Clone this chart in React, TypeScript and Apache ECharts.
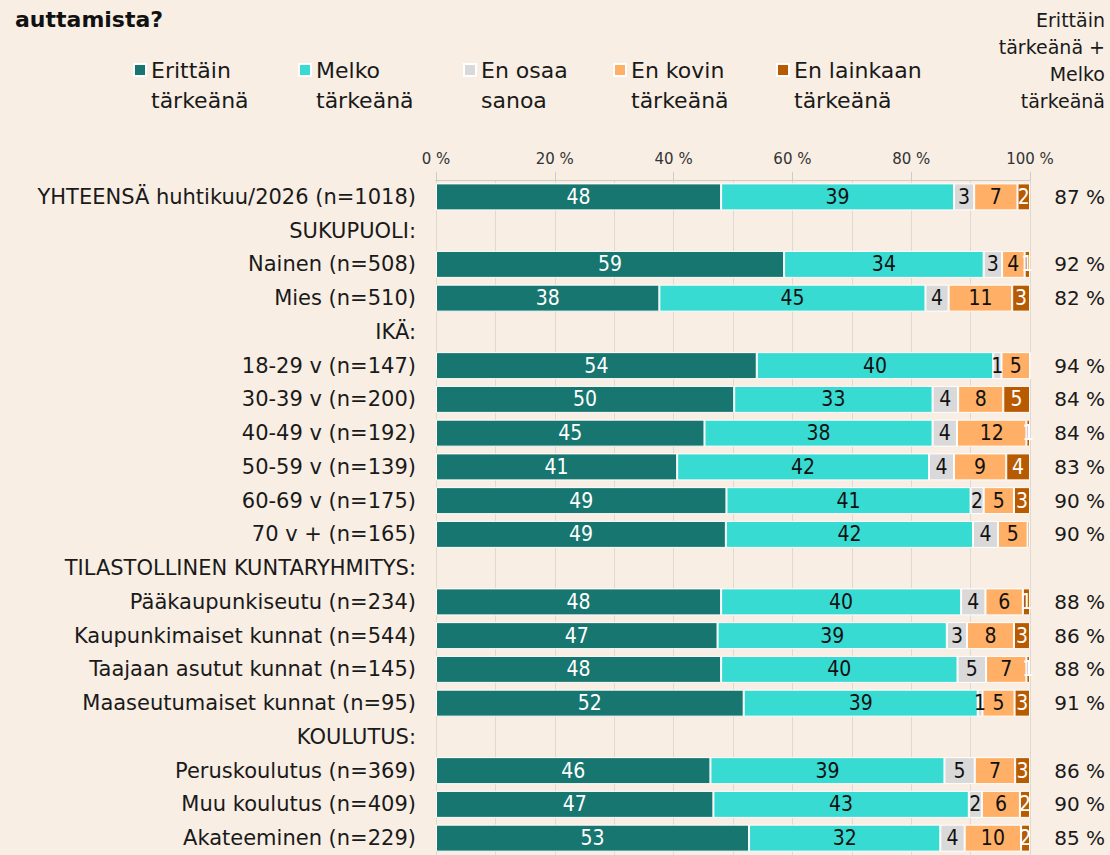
import React, { useEffect, useRef } from "react";
import * as echarts from "echarts";

const categories = [
  "YHTEENSÄ huhtikuu/2026 (n=1018)",
  "SUKUPUOLI:",
  "Nainen (n=508)",
  "Mies (n=510)",
  "IKÄ:",
  "18-29 v (n=147)",
  "30-39 v (n=200)",
  "40-49 v (n=192)",
  "50-59 v (n=139)",
  "60-69 v (n=175)",
  "70 v + (n=165)",
  "TILASTOLLINEN KUNTARYHMITYS:",
  "Pääkaupunkiseutu (n=234)",
  "Kaupunkimaiset kunnat (n=544)",
  "Taajaan asutut kunnat (n=145)",
  "Maaseutumaiset kunnat (n=95)",
  "KOULUTUS:",
  "Peruskoulutus (n=369)",
  "Muu koulutus (n=409)",
  "Akateeminen (n=229)",
];

const erittain = [48.0, null, 58.6, 37.6, null, 54.0, 50.2, 45.2, 40.6, 48.9, 48.8, null, 48.0, 47.4, 48.0, 51.8, null, 46.2, 46.7, 52.7];
const melko = [39.2, null, 33.6, 44.8, null, 39.8, 33.4, 38.4, 42.4, 41.1, 41.6, null, 40.4, 38.6, 39.8, 39.4, null, 39.4, 43.0, 32.2];
const enOsaa = [3.4, null, 3.1, 3.9, null, 1.4, 4.3, 4.1, 4.2, 2.2, 4.2, null, 4.1, 3.4, 4.8, 0.8, null, 5.1, 2.2, 4.1];
const enKovin = [7.3, null, 3.8, 10.7, null, 4.8, 7.6, 11.7, 8.8, 5.1, 5.0, null, 6.3, 7.9, 6.8, 5.4, null, 6.8, 6.4, 9.5];
const enLainkaan = [2.1, null, 0.9, 3.0, null, 0, 4.5, 0.6, 4.0, 2.7, 0.4, null, 1.2, 2.7, 0.6, 2.6, null, 2.5, 1.7, 1.5];

const seriesNames = [
  "Erittäin tärkeänä",
  "Melko tärkeänä",
  "En osaa sanoa",
  "En kovin tärkeänä",
  "En lainkaan tärkeänä",
];
const seriesColors = ["#17766F", "#38DBD1", "#D9D9D9", "#FFB066", "#B85A00"];
const labelColors = ["#FFFFFF", "#111111", "#111111", "#111111", "#FFFFFF"];
const legendLefts = [133, 298, 463, 613, 776];

const totals = erittain.map((v, i) =>
  v === null ? "" : `${Math.round((v as number) + (melko[i] as number))} %`
);

const FONT = "'DejaVu Sans', sans-serif";
const NUMFONT = "'Liberation Sans Narrow', 'DejaVu Sans Condensed', sans-serif";
const BG = "#F8EEE4";

export default function App() {
  const ref = useRef<HTMLDivElement>(null);
  useEffect(() => {
    if (!ref.current) return;
    const chart = echarts.init(ref.current, null, { renderer: "svg" });
    const data = [erittain, melko, enOsaa, enKovin, enLainkaan];
    chart.setOption({
      animation: false,
      backgroundColor: BG,
      textStyle: { fontFamily: FONT },
      grid: { left: 436, width: 594, top: 180, height: 679 },
      legend: seriesNames.map((n, i) => ({
        data: [n],
        left: legendLefts[i],
        top: 25,
        padding: 0,
        itemWidth: 12,
        itemHeight: 12,
        icon: "rect",
        selectedMode: false,
        formatter: (name: string) => {
          const k = name.lastIndexOf(" ");
          return " \n" + name.slice(0, k) + "\n" + name.slice(k + 1);
        },
        textStyle: {
          fontFamily: FONT,
          fontSize: 22,
          color: "#1a1a1a",
          lineHeight: 30,
        },
      })),
      xAxis: {
        type: "value",
        position: "top",
        min: 0,
        max: 100,
        interval: 20,
        axisLine: { show: true, lineStyle: { color: "#CFCAC4" } },
        axisTick: { show: true, length: 8, lineStyle: { color: "#CFCAC4" } },
        axisLabel: {
          formatter: (v: number) => `${v} %`,
          fontFamily: FONT,
          fontSize: 15,
          color: "#333",
          margin: 14,
        },
        splitLine: { show: true, lineStyle: { color: "#DFD9D3" } },
        minorTick: { show: false, splitNumber: 2 },
        minorSplitLine: { show: true, lineStyle: { color: "#DFD9D3" } },
      },
      yAxis: [
        {
          type: "category",
          data: categories,
          inverse: true,
          axisLine: { show: false },
          axisTick: { show: false },
          axisLabel: {
            fontFamily: FONT,
            fontSize: 21,
            color: "#1a1a1a",
            margin: 20,
          },
        },
        {
          type: "category",
          data: totals,
          inverse: true,
          position: "right",
          axisLine: { show: false },
          axisTick: { show: false },
          axisLabel: {
            fontFamily: FONT,
            fontSize: 20,
            color: "#1a1a1a",
            align: "right",
            margin: 75,
          },
        },
      ],
      series: seriesNames.map((n, i) => ({
        name: n,
        type: "bar",
        stack: "total",
        yAxisIndex: 0,
        barWidth: "80%",
        data: data[i],
        itemStyle: { color: seriesColors[i], borderColor: "#FFFFFF", borderWidth: 1 },
        label: {
          show: true,
          position: "inside",
          fontFamily: NUMFONT,
          fontSize: 21,
          color: labelColors[i],
          formatter: (p: any) => {
            if (p.value === null || p.value === undefined) return "";
            const r = Math.round(p.value);
            return r > 0 ? String(r) : "";
          },
        },
      })),
      graphic: [
        {
          type: "text",
          x: 15,
          y: 8,
          style: {
            text: "auttamista?",
            font: `bold 22px ${FONT}`,
            fill: "#111",
          },
        },
        {
          type: "text",
          x: 1105,
          y: 6,
          style: {
            text: "Erittäin\ntärkeänä +\nMelko\ntärkeänä",
            font: `19px ${FONT}`,
            fill: "#1a1a1a",
            align: "right",
            textAlign: "right",
            lineHeight: 27,
          },
        },
      ],
    });
    return () => chart.dispose();
  }, []);
  return (
    <div
      ref={ref}
      style={{ position: "absolute", left: 0, top: 0, width: 1110, height: 855 }}
    />
  );
}
